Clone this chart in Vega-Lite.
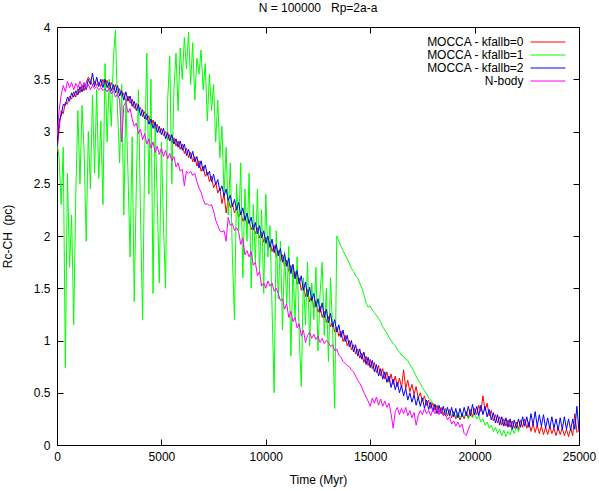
{
"$schema": "https://vega.github.io/schema/vega-lite/v6.json",
"width": 522,
"height": 418,
"autosize": {"type": "none"},
"padding": {"left": 57, "top": 27, "right": 20, "bottom": 46},
"background": "white",
"config": {
  "font": "Liberation Sans",
  "view": {"stroke": "black", "strokeWidth": 1},
  "axis": {"grid": false, "domain": false, "tickSize": -6, "tickColor": "black", "labelColor": "black", "labelFontSize": 12, "labelFont": "Liberation Sans", "titleFont": "Liberation Sans", "titleFontSize": 12, "titleFontWeight": "normal", "titleColor": "black", "labelFlush": false, "labelOverlap": false}
},
"title": {"text": "N = 100000\u00a0\u00a0 Rp=2a-a", "fontSize": 12, "fontWeight": "normal", "font": "Liberation Sans", "offset": 6, "anchor": "middle", "color": "black"},
"data": {"values": [
{"s":"k0","t":0,"v":2.80},{"s":"k0","t":100,"v":3.02},{"s":"k0","t":200,"v":3.20},{"s":"k0","t":300,"v":3.17},{"s":"k0","t":400,"v":3.28},{"s":"k0","t":500,"v":3.26},{"s":"k0","t":600,"v":3.34},{"s":"k0","t":700,"v":3.31},{"s":"k0","t":800,"v":3.38},{"s":"k0","t":900,"v":3.33},
{"s":"k0","t":1000,"v":3.41},{"s":"k0","t":1100,"v":3.37},{"s":"k0","t":1200,"v":3.44},{"s":"k0","t":1300,"v":3.39},{"s":"k0","t":1400,"v":3.47},{"s":"k0","t":1500,"v":3.52},{"s":"k0","t":1600,"v":3.49},{"s":"k0","t":1700,"v":3.44},{"s":"k0","t":1800,"v":3.48},{"s":"k0","t":1900,"v":3.44},
{"s":"k0","t":2000,"v":3.47},{"s":"k0","t":2100,"v":3.43},{"s":"k0","t":2200,"v":3.50},{"s":"k0","t":2300,"v":3.44},{"s":"k0","t":2400,"v":3.49},{"s":"k0","t":2500,"v":3.41},{"s":"k0","t":2600,"v":3.47},{"s":"k0","t":2700,"v":3.40},{"s":"k0","t":2800,"v":3.45},{"s":"k0","t":2900,"v":3.36},
{"s":"k0","t":3000,"v":3.41},{"s":"k0","t":3100,"v":3.33},{"s":"k0","t":3200,"v":3.37},{"s":"k0","t":3300,"v":3.28},{"s":"k0","t":3400,"v":3.34},{"s":"k0","t":3500,"v":3.27},{"s":"k0","t":3600,"v":3.31},{"s":"k0","t":3700,"v":3.22},{"s":"k0","t":3800,"v":3.27},{"s":"k0","t":3900,"v":3.19},
{"s":"k0","t":4000,"v":3.23},{"s":"k0","t":4100,"v":3.14},{"s":"k0","t":4200,"v":3.19},{"s":"k0","t":4300,"v":3.11},{"s":"k0","t":4400,"v":3.15},{"s":"k0","t":4500,"v":3.06},{"s":"k0","t":4600,"v":3.11},{"s":"k0","t":4700,"v":3.02},{"s":"k0","t":4800,"v":3.07},{"s":"k0","t":4900,"v":2.99},
{"s":"k0","t":5000,"v":3.03},{"s":"k0","t":5100,"v":2.96},{"s":"k0","t":5200,"v":3.00},{"s":"k0","t":5300,"v":2.92},{"s":"k0","t":5400,"v":2.97},{"s":"k0","t":5500,"v":2.89},{"s":"k0","t":5600,"v":2.94},{"s":"k0","t":5700,"v":2.86},{"s":"k0","t":5800,"v":2.91},{"s":"k0","t":5900,"v":2.83},
{"s":"k0","t":6000,"v":2.88},{"s":"k0","t":6100,"v":2.79},{"s":"k0","t":6200,"v":2.84},{"s":"k0","t":6300,"v":2.75},{"s":"k0","t":6400,"v":2.80},{"s":"k0","t":6500,"v":2.71},{"s":"k0","t":6600,"v":2.76},{"s":"k0","t":6700,"v":2.67},{"s":"k0","t":6800,"v":2.72},{"s":"k0","t":6900,"v":2.62},
{"s":"k0","t":7000,"v":2.67},{"s":"k0","t":7100,"v":2.57},{"s":"k0","t":7200,"v":2.61},{"s":"k0","t":7300,"v":2.52},{"s":"k0","t":7400,"v":2.57},{"s":"k0","t":7500,"v":2.46},{"s":"k0","t":7600,"v":2.51},{"s":"k0","t":7700,"v":2.41},{"s":"k0","t":7800,"v":2.46},{"s":"k0","t":7900,"v":2.31},
{"s":"k0","t":8000,"v":2.40},{"s":"k0","t":8100,"v":2.22},{"s":"k0","t":8200,"v":2.36},{"s":"k0","t":8300,"v":2.27},{"s":"k0","t":8400,"v":2.31},{"s":"k0","t":8500,"v":2.22},{"s":"k0","t":8600,"v":2.28},{"s":"k0","t":8700,"v":2.18},{"s":"k0","t":8800,"v":2.23},{"s":"k0","t":8900,"v":2.14},
{"s":"k0","t":9000,"v":2.19},{"s":"k0","t":9100,"v":2.10},{"s":"k0","t":9200,"v":2.15},{"s":"k0","t":9300,"v":2.06},{"s":"k0","t":9400,"v":2.11},{"s":"k0","t":9500,"v":2.02},{"s":"k0","t":9600,"v":2.08},{"s":"k0","t":9700,"v":1.98},{"s":"k0","t":9800,"v":2.04},{"s":"k0","t":9900,"v":1.94},
{"s":"k0","t":10000,"v":1.99},{"s":"k0","t":10100,"v":1.89},{"s":"k0","t":10200,"v":1.95},{"s":"k0","t":10300,"v":1.85},{"s":"k0","t":10400,"v":1.91},{"s":"k0","t":10500,"v":1.80},{"s":"k0","t":10600,"v":1.86},{"s":"k0","t":10700,"v":1.76},{"s":"k0","t":10800,"v":1.82},{"s":"k0","t":10900,"v":1.71},
{"s":"k0","t":11000,"v":1.77},{"s":"k0","t":11100,"v":1.66},{"s":"k0","t":11200,"v":1.72},{"s":"k0","t":11300,"v":1.60},{"s":"k0","t":11400,"v":1.66},{"s":"k0","t":11500,"v":1.54},{"s":"k0","t":11600,"v":1.60},{"s":"k0","t":11700,"v":1.48},{"s":"k0","t":11800,"v":1.54},{"s":"k0","t":11900,"v":1.42},
{"s":"k0","t":12000,"v":1.49},{"s":"k0","t":12100,"v":1.37},{"s":"k0","t":12200,"v":1.43},{"s":"k0","t":12300,"v":1.31},{"s":"k0","t":12400,"v":1.38},{"s":"k0","t":12500,"v":1.27},{"s":"k0","t":12600,"v":1.33},{"s":"k0","t":12700,"v":1.22},{"s":"k0","t":12800,"v":1.28},{"s":"k0","t":12900,"v":1.17},
{"s":"k0","t":13000,"v":1.23},{"s":"k0","t":13100,"v":1.13},{"s":"k0","t":13200,"v":1.18},{"s":"k0","t":13300,"v":1.08},{"s":"k0","t":13400,"v":1.13},{"s":"k0","t":13500,"v":1.04},{"s":"k0","t":13600,"v":1.09},{"s":"k0","t":13700,"v":0.99},{"s":"k0","t":13800,"v":1.05},{"s":"k0","t":13900,"v":0.95},
{"s":"k0","t":14000,"v":1.00},{"s":"k0","t":14100,"v":0.91},{"s":"k0","t":14200,"v":0.96},{"s":"k0","t":14300,"v":0.87},{"s":"k0","t":14400,"v":0.92},{"s":"k0","t":14500,"v":0.83},{"s":"k0","t":14600,"v":0.88},{"s":"k0","t":14700,"v":0.79},{"s":"k0","t":14800,"v":0.85},{"s":"k0","t":14900,"v":0.76},
{"s":"k0","t":15000,"v":0.82},{"s":"k0","t":15100,"v":0.73},{"s":"k0","t":15200,"v":0.79},{"s":"k0","t":15300,"v":0.69},{"s":"k0","t":15400,"v":0.76},{"s":"k0","t":15500,"v":0.66},{"s":"k0","t":15600,"v":0.73},{"s":"k0","t":15700,"v":0.63},{"s":"k0","t":15800,"v":0.70},{"s":"k0","t":15900,"v":0.60},
{"s":"k0","t":16000,"v":0.68},{"s":"k0","t":16100,"v":0.58},{"s":"k0","t":16200,"v":0.66},{"s":"k0","t":16300,"v":0.56},{"s":"k0","t":16400,"v":0.64},{"s":"k0","t":16500,"v":0.55},{"s":"k0","t":16600,"v":0.72},{"s":"k0","t":16700,"v":0.54},{"s":"k0","t":16800,"v":0.62},{"s":"k0","t":16900,"v":0.51},
{"s":"k0","t":17000,"v":0.58},{"s":"k0","t":17100,"v":0.48},{"s":"k0","t":17200,"v":0.56},{"s":"k0","t":17300,"v":0.45},{"s":"k0","t":17400,"v":0.50},{"s":"k0","t":17500,"v":0.42},{"s":"k0","t":17600,"v":0.47},{"s":"k0","t":17700,"v":0.38},{"s":"k0","t":17800,"v":0.43},{"s":"k0","t":17900,"v":0.35},
{"s":"k0","t":18000,"v":0.40},{"s":"k0","t":18100,"v":0.33},{"s":"k0","t":18200,"v":0.38},{"s":"k0","t":18300,"v":0.31},{"s":"k0","t":18400,"v":0.36},{"s":"k0","t":18500,"v":0.29},{"s":"k0","t":18600,"v":0.35},{"s":"k0","t":18700,"v":0.28},{"s":"k0","t":18800,"v":0.34},{"s":"k0","t":18900,"v":0.26},
{"s":"k0","t":19000,"v":0.32},{"s":"k0","t":19100,"v":0.25},{"s":"k0","t":19200,"v":0.31},{"s":"k0","t":19300,"v":0.24},{"s":"k0","t":19400,"v":0.30},{"s":"k0","t":19500,"v":0.25},{"s":"k0","t":19600,"v":0.32},{"s":"k0","t":19700,"v":0.26},{"s":"k0","t":19800,"v":0.34},{"s":"k0","t":19900,"v":0.27},
{"s":"k0","t":20000,"v":0.35},{"s":"k0","t":20100,"v":0.29},{"s":"k0","t":20200,"v":0.38},{"s":"k0","t":20300,"v":0.32},{"s":"k0","t":20400,"v":0.47},{"s":"k0","t":20500,"v":0.33},{"s":"k0","t":20600,"v":0.40},{"s":"k0","t":20700,"v":0.28},{"s":"k0","t":20800,"v":0.33},{"s":"k0","t":20900,"v":0.23},
{"s":"k0","t":21000,"v":0.29},{"s":"k0","t":21100,"v":0.21},{"s":"k0","t":21200,"v":0.27},{"s":"k0","t":21300,"v":0.19},{"s":"k0","t":21400,"v":0.25},{"s":"k0","t":21500,"v":0.18},{"s":"k0","t":21600,"v":0.24},{"s":"k0","t":21700,"v":0.17},{"s":"k0","t":21800,"v":0.23},{"s":"k0","t":21900,"v":0.16},
{"s":"k0","t":22000,"v":0.22},{"s":"k0","t":22100,"v":0.15},{"s":"k0","t":22200,"v":0.24},{"s":"k0","t":22300,"v":0.17},{"s":"k0","t":22400,"v":0.25},{"s":"k0","t":22500,"v":0.16},{"s":"k0","t":22600,"v":0.22},{"s":"k0","t":22700,"v":0.13},{"s":"k0","t":22800,"v":0.20},{"s":"k0","t":22900,"v":0.12},
{"s":"k0","t":23000,"v":0.19},{"s":"k0","t":23100,"v":0.11},{"s":"k0","t":23200,"v":0.18},{"s":"k0","t":23300,"v":0.10},{"s":"k0","t":23400,"v":0.17},{"s":"k0","t":23500,"v":0.10},{"s":"k0","t":23600,"v":0.18},{"s":"k0","t":23700,"v":0.11},{"s":"k0","t":23800,"v":0.16},{"s":"k0","t":23900,"v":0.09},
{"s":"k0","t":24000,"v":0.17},{"s":"k0","t":24100,"v":0.10},{"s":"k0","t":24200,"v":0.16},{"s":"k0","t":24300,"v":0.09},{"s":"k0","t":24400,"v":0.15},{"s":"k0","t":24500,"v":0.08},{"s":"k0","t":24600,"v":0.16},{"s":"k0","t":24700,"v":0.09},{"s":"k0","t":24800,"v":0.30},{"s":"k0","t":24900,"v":0.12},
{"s":"k0","t":25000,"v":0.14},
{"s":"k1","t":0,"v":2.90},{"s":"k1","t":100,"v":2.75},{"s":"k1","t":200,"v":2.30},{"s":"k1","t":300,"v":2.85},{"s":"k1","t":400,"v":0.74},{"s":"k1","t":500,"v":2.60},{"s":"k1","t":600,"v":1.70},{"s":"k1","t":700,"v":2.20},{"s":"k1","t":800,"v":1.15},{"s":"k1","t":900,"v":2.40},
{"s":"k1","t":1000,"v":3.20},{"s":"k1","t":1100,"v":2.50},{"s":"k1","t":1200,"v":3.25},{"s":"k1","t":1300,"v":2.80},{"s":"k1","t":1400,"v":1.95},{"s":"k1","t":1500,"v":3.00},{"s":"k1","t":1600,"v":2.45},{"s":"k1","t":1700,"v":3.35},{"s":"k1","t":1800,"v":2.60},{"s":"k1","t":1900,"v":3.40},
{"s":"k1","t":2000,"v":2.55},{"s":"k1","t":2100,"v":3.10},{"s":"k1","t":2200,"v":2.30},{"s":"k1","t":2300,"v":3.65},{"s":"k1","t":2400,"v":2.90},{"s":"k1","t":2500,"v":3.50},{"s":"k1","t":2600,"v":3.05},{"s":"k1","t":2700,"v":3.70},{"s":"k1","t":2800,"v":3.97},{"s":"k1","t":2900,"v":3.20},
{"s":"k1","t":3000,"v":2.70},{"s":"k1","t":3100,"v":3.45},{"s":"k1","t":3200,"v":2.20},{"s":"k1","t":3300,"v":3.30},{"s":"k1","t":3400,"v":2.60},{"s":"k1","t":3500,"v":1.80},{"s":"k1","t":3600,"v":2.95},{"s":"k1","t":3700,"v":1.37},{"s":"k1","t":3800,"v":2.50},{"s":"k1","t":3900,"v":3.40},
{"s":"k1","t":4000,"v":2.20},{"s":"k1","t":4100,"v":1.20},{"s":"k1","t":4200,"v":2.80},{"s":"k1","t":4300,"v":3.75},{"s":"k1","t":4400,"v":2.40},{"s":"k1","t":4500,"v":3.50},{"s":"k1","t":4600,"v":1.45},{"s":"k1","t":4700,"v":3.10},{"s":"k1","t":4800,"v":2.35},{"s":"k1","t":4900,"v":1.55},
{"s":"k1","t":5000,"v":2.90},{"s":"k1","t":5100,"v":2.10},{"s":"k1","t":5200,"v":1.50},{"s":"k1","t":5300,"v":3.30},{"s":"k1","t":5400,"v":3.72},{"s":"k1","t":5500,"v":2.50},{"s":"k1","t":5600,"v":3.40},{"s":"k1","t":5700,"v":3.75},{"s":"k1","t":5800,"v":3.20},{"s":"k1","t":5900,"v":3.80},
{"s":"k1","t":6000,"v":3.50},{"s":"k1","t":6100,"v":3.90},{"s":"k1","t":6200,"v":3.60},{"s":"k1","t":6300,"v":3.95},{"s":"k1","t":6400,"v":3.45},{"s":"k1","t":6500,"v":3.85},{"s":"k1","t":6600,"v":3.30},{"s":"k1","t":6700,"v":3.70},{"s":"k1","t":6800,"v":3.55},{"s":"k1","t":6900,"v":3.78},
{"s":"k1","t":7000,"v":3.40},{"s":"k1","t":7100,"v":3.65},{"s":"k1","t":7200,"v":3.10},{"s":"k1","t":7300,"v":3.55},{"s":"k1","t":7400,"v":3.20},{"s":"k1","t":7500,"v":3.45},{"s":"k1","t":7600,"v":2.90},{"s":"k1","t":7700,"v":3.30},{"s":"k1","t":7800,"v":2.75},{"s":"k1","t":7900,"v":3.05},
{"s":"k1","t":8000,"v":2.40},{"s":"k1","t":8100,"v":2.85},{"s":"k1","t":8200,"v":2.20},{"s":"k1","t":8300,"v":2.70},{"s":"k1","t":8400,"v":1.80},{"s":"k1","t":8500,"v":1.20},{"s":"k1","t":8600,"v":2.50},{"s":"k1","t":8700,"v":2.05},{"s":"k1","t":8800,"v":2.70},{"s":"k1","t":8900,"v":1.60},
{"s":"k1","t":9000,"v":2.45},{"s":"k1","t":9100,"v":1.95},{"s":"k1","t":9200,"v":2.60},{"s":"k1","t":9300,"v":1.50},{"s":"k1","t":9400,"v":2.30},{"s":"k1","t":9500,"v":1.75},{"s":"k1","t":9600,"v":2.45},{"s":"k1","t":9700,"v":1.65},{"s":"k1","t":9800,"v":2.25},{"s":"k1","t":9900,"v":1.45},
{"s":"k1","t":10000,"v":2.40},{"s":"k1","t":10100,"v":1.80},{"s":"k1","t":10200,"v":2.10},{"s":"k1","t":10300,"v":1.30},{"s":"k1","t":10400,"v":0.50},{"s":"k1","t":10500,"v":2.05},{"s":"k1","t":10600,"v":1.40},{"s":"k1","t":10700,"v":1.95},{"s":"k1","t":10800,"v":1.10},{"s":"k1","t":10900,"v":1.85},
{"s":"k1","t":11000,"v":1.35},{"s":"k1","t":11100,"v":1.90},{"s":"k1","t":11200,"v":0.85},{"s":"k1","t":11300,"v":1.70},{"s":"k1","t":11400,"v":1.20},{"s":"k1","t":11500,"v":1.80},{"s":"k1","t":11600,"v":1.05},{"s":"k1","t":11700,"v":0.56},{"s":"k1","t":11800,"v":1.60},{"s":"k1","t":11900,"v":1.15},
{"s":"k1","t":12000,"v":1.75},{"s":"k1","t":12100,"v":0.95},{"s":"k1","t":12200,"v":1.55},{"s":"k1","t":12300,"v":1.20},{"s":"k1","t":12400,"v":1.70},{"s":"k1","t":12500,"v":0.90},{"s":"k1","t":12600,"v":1.45},{"s":"k1","t":12700,"v":1.75},{"s":"k1","t":12800,"v":1.05},{"s":"k1","t":12900,"v":1.50},
{"s":"k1","t":13000,"v":0.80},{"s":"k1","t":13100,"v":1.60},{"s":"k1","t":13200,"v":1.10},{"s":"k1","t":13300,"v":0.35},{"s":"k1","t":13400,"v":2.00},{"s":"k1","t":13500,"v":1.95},{"s":"k1","t":13600,"v":1.90},{"s":"k1","t":13700,"v":1.86},{"s":"k1","t":13800,"v":1.82},{"s":"k1","t":13900,"v":1.78},
{"s":"k1","t":14000,"v":1.74},{"s":"k1","t":14100,"v":1.69},{"s":"k1","t":14200,"v":1.66},{"s":"k1","t":14300,"v":1.62},{"s":"k1","t":14400,"v":1.60},{"s":"k1","t":14500,"v":1.55},{"s":"k1","t":14600,"v":1.50},{"s":"k1","t":14700,"v":1.44},{"s":"k1","t":14800,"v":1.36},{"s":"k1","t":14900,"v":1.32},
{"s":"k1","t":15000,"v":1.33},{"s":"k1","t":15100,"v":1.29},{"s":"k1","t":15200,"v":1.27},{"s":"k1","t":15300,"v":1.24},{"s":"k1","t":15400,"v":1.21},{"s":"k1","t":15500,"v":1.18},{"s":"k1","t":15600,"v":1.13},{"s":"k1","t":15700,"v":1.10},{"s":"k1","t":15800,"v":1.07},{"s":"k1","t":15900,"v":1.03},
{"s":"k1","t":16000,"v":1.00},{"s":"k1","t":16100,"v":0.97},{"s":"k1","t":16200,"v":0.95},{"s":"k1","t":16300,"v":0.91},{"s":"k1","t":16400,"v":0.89},{"s":"k1","t":16500,"v":0.86},{"s":"k1","t":16600,"v":0.85},{"s":"k1","t":16700,"v":0.82},{"s":"k1","t":16800,"v":0.81},{"s":"k1","t":16900,"v":0.77},
{"s":"k1","t":17000,"v":0.74},{"s":"k1","t":17100,"v":0.70},{"s":"k1","t":17200,"v":0.66},{"s":"k1","t":17300,"v":0.62},{"s":"k1","t":17400,"v":0.59},{"s":"k1","t":17500,"v":0.55},{"s":"k1","t":17600,"v":0.52},{"s":"k1","t":17700,"v":0.49},{"s":"k1","t":17800,"v":0.45},{"s":"k1","t":17900,"v":0.43},
{"s":"k1","t":18000,"v":0.40},{"s":"k1","t":18100,"v":0.38},{"s":"k1","t":18200,"v":0.35},{"s":"k1","t":18300,"v":0.34},{"s":"k1","t":18400,"v":0.32},{"s":"k1","t":18500,"v":0.31},{"s":"k1","t":18600,"v":0.33},{"s":"k1","t":18700,"v":0.29},{"s":"k1","t":18800,"v":0.31},{"s":"k1","t":18900,"v":0.28},
{"s":"k1","t":19000,"v":0.30},{"s":"k1","t":19100,"v":0.27},{"s":"k1","t":19200,"v":0.31},{"s":"k1","t":19300,"v":0.26},{"s":"k1","t":19400,"v":0.29},{"s":"k1","t":19500,"v":0.27},{"s":"k1","t":19600,"v":0.30},{"s":"k1","t":19700,"v":0.25},{"s":"k1","t":19800,"v":0.29},{"s":"k1","t":19900,"v":0.26},
{"s":"k1","t":20000,"v":0.30},{"s":"k1","t":20100,"v":0.25},{"s":"k1","t":20200,"v":0.28},{"s":"k1","t":20300,"v":0.22},{"s":"k1","t":20400,"v":0.25},{"s":"k1","t":20500,"v":0.19},{"s":"k1","t":20600,"v":0.22},{"s":"k1","t":20700,"v":0.16},{"s":"k1","t":20800,"v":0.19},{"s":"k1","t":20900,"v":0.13},
{"s":"k1","t":21000,"v":0.17},{"s":"k1","t":21100,"v":0.11},{"s":"k1","t":21200,"v":0.15},{"s":"k1","t":21300,"v":0.09},{"s":"k1","t":21400,"v":0.14},{"s":"k1","t":21500,"v":0.08},{"s":"k1","t":21600,"v":0.13},{"s":"k1","t":21700,"v":0.10},{"s":"k1","t":21800,"v":0.16},{"s":"k1","t":21900,"v":0.11},
{"s":"k1","t":22000,"v":0.18},{"s":"k1","t":22100,"v":0.13},{"s":"k1","t":22200,"v":0.19},
{"s":"k2","t":0,"v":2.85},{"s":"k2","t":100,"v":3.10},{"s":"k2","t":200,"v":3.15},{"s":"k2","t":300,"v":3.26},{"s":"k2","t":400,"v":3.25},{"s":"k2","t":500,"v":3.33},{"s":"k2","t":600,"v":3.29},{"s":"k2","t":700,"v":3.37},{"s":"k2","t":800,"v":3.33},{"s":"k2","t":900,"v":3.39},
{"s":"k2","t":1000,"v":3.35},{"s":"k2","t":1100,"v":3.43},{"s":"k2","t":1200,"v":3.38},{"s":"k2","t":1300,"v":3.45},{"s":"k2","t":1400,"v":3.40},{"s":"k2","t":1500,"v":3.50},{"s":"k2","t":1600,"v":3.45},{"s":"k2","t":1700,"v":3.56},{"s":"k2","t":1800,"v":3.43},{"s":"k2","t":1900,"v":3.52},
{"s":"k2","t":2000,"v":3.43},{"s":"k2","t":2100,"v":3.50},{"s":"k2","t":2200,"v":3.42},{"s":"k2","t":2300,"v":3.50},{"s":"k2","t":2400,"v":3.42},{"s":"k2","t":2500,"v":3.47},{"s":"k2","t":2600,"v":3.39},{"s":"k2","t":2700,"v":3.45},{"s":"k2","t":2800,"v":3.37},{"s":"k2","t":2900,"v":3.44},
{"s":"k2","t":3000,"v":3.34},{"s":"k2","t":3100,"v":3.39},{"s":"k2","t":3200,"v":3.30},{"s":"k2","t":3300,"v":3.38},{"s":"k2","t":3400,"v":3.29},{"s":"k2","t":3500,"v":3.34},{"s":"k2","t":3600,"v":3.24},{"s":"k2","t":3700,"v":3.29},{"s":"k2","t":3800,"v":3.20},{"s":"k2","t":3900,"v":3.26},
{"s":"k2","t":4000,"v":3.15},{"s":"k2","t":4100,"v":3.21},{"s":"k2","t":4200,"v":3.12},{"s":"k2","t":4300,"v":3.17},{"s":"k2","t":4400,"v":3.07},{"s":"k2","t":4500,"v":3.12},{"s":"k2","t":4600,"v":3.03},{"s":"k2","t":4700,"v":3.09},{"s":"k2","t":4800,"v":2.99},{"s":"k2","t":4900,"v":3.05},
{"s":"k2","t":5000,"v":2.97},{"s":"k2","t":5100,"v":3.03},{"s":"k2","t":5200,"v":2.93},{"s":"k2","t":5300,"v":2.99},{"s":"k2","t":5400,"v":2.91},{"s":"k2","t":5500,"v":2.97},{"s":"k2","t":5600,"v":2.88},{"s":"k2","t":5700,"v":2.93},{"s":"k2","t":5800,"v":2.85},{"s":"k2","t":5900,"v":2.91},
{"s":"k2","t":6000,"v":2.82},{"s":"k2","t":6100,"v":2.88},{"s":"k2","t":6200,"v":2.77},{"s":"k2","t":6300,"v":2.83},{"s":"k2","t":6400,"v":2.74},{"s":"k2","t":6500,"v":2.81},{"s":"k2","t":6600,"v":2.71},{"s":"k2","t":6700,"v":2.76},{"s":"k2","t":6800,"v":2.65},{"s":"k2","t":6900,"v":2.72},
{"s":"k2","t":7000,"v":2.62},{"s":"k2","t":7100,"v":2.68},{"s":"k2","t":7200,"v":2.58},{"s":"k2","t":7300,"v":2.62},{"s":"k2","t":7400,"v":2.52},{"s":"k2","t":7500,"v":2.59},{"s":"k2","t":7600,"v":2.49},{"s":"k2","t":7700,"v":2.54},{"s":"k2","t":7800,"v":2.43},{"s":"k2","t":7900,"v":2.48},
{"s":"k2","t":8000,"v":2.38},{"s":"k2","t":8100,"v":2.45},{"s":"k2","t":8200,"v":2.34},{"s":"k2","t":8300,"v":2.39},{"s":"k2","t":8400,"v":2.28},{"s":"k2","t":8500,"v":2.35},{"s":"k2","t":8600,"v":2.25},{"s":"k2","t":8700,"v":2.32},{"s":"k2","t":8800,"v":2.20},{"s":"k2","t":8900,"v":2.27},
{"s":"k2","t":9000,"v":2.15},{"s":"k2","t":9100,"v":2.22},{"s":"k2","t":9200,"v":2.12},{"s":"k2","t":9300,"v":2.18},{"s":"k2","t":9400,"v":2.06},{"s":"k2","t":9500,"v":2.13},{"s":"k2","t":9600,"v":2.02},{"s":"k2","t":9700,"v":2.10},{"s":"k2","t":9800,"v":1.98},{"s":"k2","t":9900,"v":2.05},
{"s":"k2","t":10000,"v":1.93},{"s":"k2","t":10100,"v":2.00},{"s":"k2","t":10200,"v":1.89},{"s":"k2","t":10300,"v":1.97},{"s":"k2","t":10400,"v":1.84},{"s":"k2","t":10500,"v":1.92},{"s":"k2","t":10600,"v":1.81},{"s":"k2","t":10700,"v":1.88},{"s":"k2","t":10800,"v":1.75},{"s":"k2","t":10900,"v":1.83},
{"s":"k2","t":11000,"v":1.71},{"s":"k2","t":11100,"v":1.79},{"s":"k2","t":11200,"v":1.64},{"s":"k2","t":11300,"v":1.73},{"s":"k2","t":11400,"v":1.59},{"s":"k2","t":11500,"v":1.67},{"s":"k2","t":11600,"v":1.54},{"s":"k2","t":11700,"v":1.62},{"s":"k2","t":11800,"v":1.48},{"s":"k2","t":11900,"v":1.56},
{"s":"k2","t":12000,"v":1.42},{"s":"k2","t":12100,"v":1.51},{"s":"k2","t":12200,"v":1.38},{"s":"k2","t":12300,"v":1.45},{"s":"k2","t":12400,"v":1.32},{"s":"k2","t":12500,"v":1.40},{"s":"k2","t":12600,"v":1.27},{"s":"k2","t":12700,"v":1.36},{"s":"k2","t":12800,"v":1.22},{"s":"k2","t":12900,"v":1.30},
{"s":"k2","t":13000,"v":1.17},{"s":"k2","t":13100,"v":1.26},{"s":"k2","t":13200,"v":1.13},{"s":"k2","t":13300,"v":1.20},{"s":"k2","t":13400,"v":1.08},{"s":"k2","t":13500,"v":1.15},{"s":"k2","t":13600,"v":1.03},{"s":"k2","t":13700,"v":1.10},{"s":"k2","t":13800,"v":0.99},{"s":"k2","t":13900,"v":1.05},
{"s":"k2","t":14000,"v":0.94},{"s":"k2","t":14100,"v":1.00},{"s":"k2","t":14200,"v":0.89},{"s":"k2","t":14300,"v":0.96},{"s":"k2","t":14400,"v":0.85},{"s":"k2","t":14500,"v":0.92},{"s":"k2","t":14600,"v":0.82},{"s":"k2","t":14700,"v":0.89},{"s":"k2","t":14800,"v":0.77},{"s":"k2","t":14900,"v":0.84},
{"s":"k2","t":15000,"v":0.74},{"s":"k2","t":15100,"v":0.81},{"s":"k2","t":15200,"v":0.70},{"s":"k2","t":15300,"v":0.77},{"s":"k2","t":15400,"v":0.66},{"s":"k2","t":15500,"v":0.73},{"s":"k2","t":15600,"v":0.63},{"s":"k2","t":15700,"v":0.70},{"s":"k2","t":15800,"v":0.60},{"s":"k2","t":15900,"v":0.66},
{"s":"k2","t":16000,"v":0.55},{"s":"k2","t":16100,"v":0.63},{"s":"k2","t":16200,"v":0.53},{"s":"k2","t":16300,"v":0.60},{"s":"k2","t":16400,"v":0.50},{"s":"k2","t":16500,"v":0.57},{"s":"k2","t":16600,"v":0.47},{"s":"k2","t":16700,"v":0.54},{"s":"k2","t":16800,"v":0.43},{"s":"k2","t":16900,"v":0.50},
{"s":"k2","t":17000,"v":0.41},{"s":"k2","t":17100,"v":0.48},{"s":"k2","t":17200,"v":0.38},{"s":"k2","t":17300,"v":0.46},{"s":"k2","t":17400,"v":0.37},{"s":"k2","t":17500,"v":0.45},{"s":"k2","t":17600,"v":0.35},{"s":"k2","t":17700,"v":0.43},{"s":"k2","t":17800,"v":0.34},{"s":"k2","t":17900,"v":0.41},
{"s":"k2","t":18000,"v":0.32},{"s":"k2","t":18100,"v":0.39},{"s":"k2","t":18200,"v":0.30},{"s":"k2","t":18300,"v":0.38},{"s":"k2","t":18400,"v":0.30},{"s":"k2","t":18500,"v":0.37},{"s":"k2","t":18600,"v":0.28},{"s":"k2","t":18700,"v":0.36},{"s":"k2","t":18800,"v":0.28},{"s":"k2","t":18900,"v":0.36},
{"s":"k2","t":19000,"v":0.27},{"s":"k2","t":19100,"v":0.35},{"s":"k2","t":19200,"v":0.26},{"s":"k2","t":19300,"v":0.35},{"s":"k2","t":19400,"v":0.27},{"s":"k2","t":19500,"v":0.36},{"s":"k2","t":19600,"v":0.28},{"s":"k2","t":19700,"v":0.37},{"s":"k2","t":19800,"v":0.28},{"s":"k2","t":19900,"v":0.39},
{"s":"k2","t":20000,"v":0.29},{"s":"k2","t":20100,"v":0.37},{"s":"k2","t":20200,"v":0.28},{"s":"k2","t":20300,"v":0.38},{"s":"k2","t":20400,"v":0.29},{"s":"k2","t":20500,"v":0.37},{"s":"k2","t":20600,"v":0.27},{"s":"k2","t":20700,"v":0.34},{"s":"k2","t":20800,"v":0.24},{"s":"k2","t":20900,"v":0.31},
{"s":"k2","t":21000,"v":0.21},{"s":"k2","t":21100,"v":0.29},{"s":"k2","t":21200,"v":0.19},{"s":"k2","t":21300,"v":0.27},{"s":"k2","t":21400,"v":0.18},{"s":"k2","t":21500,"v":0.26},{"s":"k2","t":21600,"v":0.17},{"s":"k2","t":21700,"v":0.25},{"s":"k2","t":21800,"v":0.15},{"s":"k2","t":21900,"v":0.24},
{"s":"k2","t":22000,"v":0.16},{"s":"k2","t":22100,"v":0.25},{"s":"k2","t":22200,"v":0.17},{"s":"k2","t":22300,"v":0.27},{"s":"k2","t":22400,"v":0.18},{"s":"k2","t":22500,"v":0.27},{"s":"k2","t":22600,"v":0.17},{"s":"k2","t":22700,"v":0.30},{"s":"k2","t":22800,"v":0.19},{"s":"k2","t":22900,"v":0.32},
{"s":"k2","t":23000,"v":0.18},{"s":"k2","t":23100,"v":0.29},{"s":"k2","t":23200,"v":0.18},{"s":"k2","t":23300,"v":0.29},{"s":"k2","t":23400,"v":0.16},{"s":"k2","t":23500,"v":0.26},{"s":"k2","t":23600,"v":0.16},{"s":"k2","t":23700,"v":0.27},{"s":"k2","t":23800,"v":0.16},{"s":"k2","t":23900,"v":0.25},
{"s":"k2","t":24000,"v":0.14},{"s":"k2","t":24100,"v":0.26},{"s":"k2","t":24200,"v":0.15},{"s":"k2","t":24300,"v":0.27},{"s":"k2","t":24400,"v":0.15},{"s":"k2","t":24500,"v":0.25},{"s":"k2","t":24600,"v":0.14},{"s":"k2","t":24700,"v":0.25},{"s":"k2","t":24800,"v":0.15},{"s":"k2","t":24900,"v":0.37},
{"s":"k2","t":25000,"v":0.13},
{"s":"nb","t":0,"v":2.95},{"s":"nb","t":100,"v":3.20},{"s":"nb","t":200,"v":3.35},{"s":"nb","t":300,"v":3.44},{"s":"nb","t":400,"v":3.38},{"s":"nb","t":500,"v":3.48},{"s":"nb","t":600,"v":3.42},{"s":"nb","t":700,"v":3.47},{"s":"nb","t":800,"v":3.40},{"s":"nb","t":900,"v":3.46},
{"s":"nb","t":1000,"v":3.42},{"s":"nb","t":1100,"v":3.48},{"s":"nb","t":1200,"v":3.43},{"s":"nb","t":1300,"v":3.47},{"s":"nb","t":1400,"v":3.41},{"s":"nb","t":1500,"v":3.45},{"s":"nb","t":1600,"v":3.40},{"s":"nb","t":1700,"v":3.44},{"s":"nb","t":1800,"v":3.41},{"s":"nb","t":1900,"v":3.43},
{"s":"nb","t":2000,"v":3.40},{"s":"nb","t":2100,"v":3.42},{"s":"nb","t":2200,"v":3.39},{"s":"nb","t":2300,"v":3.41},{"s":"nb","t":2400,"v":3.38},{"s":"nb","t":2500,"v":3.42},{"s":"nb","t":2600,"v":3.36},{"s":"nb","t":2700,"v":3.39},{"s":"nb","t":2800,"v":3.33},{"s":"nb","t":2900,"v":3.36},
{"s":"nb","t":3000,"v":3.30},{"s":"nb","t":3100,"v":2.90},{"s":"nb","t":3200,"v":3.25},{"s":"nb","t":3300,"v":3.28},{"s":"nb","t":3400,"v":3.18},{"s":"nb","t":3500,"v":3.22},{"s":"nb","t":3600,"v":3.12},{"s":"nb","t":3700,"v":3.05},{"s":"nb","t":3800,"v":3.08},{"s":"nb","t":3900,"v":2.98},
{"s":"nb","t":4000,"v":3.02},{"s":"nb","t":4100,"v":2.92},{"s":"nb","t":4200,"v":2.98},{"s":"nb","t":4300,"v":2.88},{"s":"nb","t":4400,"v":2.93},{"s":"nb","t":4500,"v":2.84},{"s":"nb","t":4600,"v":2.90},{"s":"nb","t":4700,"v":2.80},{"s":"nb","t":4800,"v":2.86},{"s":"nb","t":4900,"v":2.78},
{"s":"nb","t":5000,"v":2.84},{"s":"nb","t":5100,"v":2.76},{"s":"nb","t":5200,"v":2.82},{"s":"nb","t":5300,"v":2.74},{"s":"nb","t":5400,"v":2.79},{"s":"nb","t":5500,"v":2.72},{"s":"nb","t":5600,"v":2.76},{"s":"nb","t":5700,"v":2.66},{"s":"nb","t":5800,"v":2.70},{"s":"nb","t":5900,"v":2.62},
{"s":"nb","t":6000,"v":2.64},{"s":"nb","t":6100,"v":2.48},{"s":"nb","t":6200,"v":2.62},{"s":"nb","t":6300,"v":2.60},{"s":"nb","t":6400,"v":2.62},{"s":"nb","t":6500,"v":2.58},{"s":"nb","t":6600,"v":2.60},{"s":"nb","t":6700,"v":2.52},{"s":"nb","t":6800,"v":2.46},{"s":"nb","t":6900,"v":2.42},
{"s":"nb","t":7000,"v":2.35},{"s":"nb","t":7100,"v":2.30},{"s":"nb","t":7200,"v":2.31},{"s":"nb","t":7300,"v":2.29},{"s":"nb","t":7400,"v":2.30},{"s":"nb","t":7500,"v":2.24},{"s":"nb","t":7600,"v":2.15},{"s":"nb","t":7700,"v":2.10},{"s":"nb","t":7800,"v":2.05},{"s":"nb","t":7900,"v":2.04},
{"s":"nb","t":8000,"v":2.05},{"s":"nb","t":8100,"v":1.95},{"s":"nb","t":8200,"v":2.18},{"s":"nb","t":8300,"v":2.10},{"s":"nb","t":8400,"v":2.12},{"s":"nb","t":8500,"v":2.05},{"s":"nb","t":8600,"v":2.08},{"s":"nb","t":8700,"v":2.04},{"s":"nb","t":8800,"v":1.92},{"s":"nb","t":8900,"v":1.98},
{"s":"nb","t":9000,"v":1.82},{"s":"nb","t":9100,"v":1.86},{"s":"nb","t":9200,"v":1.80},{"s":"nb","t":9300,"v":1.85},{"s":"nb","t":9400,"v":1.72},{"s":"nb","t":9500,"v":1.75},{"s":"nb","t":9600,"v":1.62},{"s":"nb","t":9700,"v":1.66},{"s":"nb","t":9800,"v":1.52},{"s":"nb","t":9900,"v":1.55},
{"s":"nb","t":10000,"v":1.50},{"s":"nb","t":10100,"v":1.57},{"s":"nb","t":10200,"v":1.52},{"s":"nb","t":10300,"v":1.55},{"s":"nb","t":10400,"v":1.47},{"s":"nb","t":10500,"v":1.50},{"s":"nb","t":10600,"v":1.45},{"s":"nb","t":10700,"v":1.38},{"s":"nb","t":10800,"v":1.40},{"s":"nb","t":10900,"v":1.30},
{"s":"nb","t":11000,"v":1.35},{"s":"nb","t":11100,"v":1.22},{"s":"nb","t":11200,"v":1.28},{"s":"nb","t":11300,"v":1.18},{"s":"nb","t":11400,"v":1.22},{"s":"nb","t":11500,"v":1.12},{"s":"nb","t":11600,"v":1.16},{"s":"nb","t":11700,"v":1.04},{"s":"nb","t":11800,"v":1.10},{"s":"nb","t":11900,"v":0.98},
{"s":"nb","t":12000,"v":1.05},{"s":"nb","t":12100,"v":1.08},{"s":"nb","t":12200,"v":1.02},{"s":"nb","t":12300,"v":1.06},{"s":"nb","t":12400,"v":1.01},{"s":"nb","t":12500,"v":1.04},{"s":"nb","t":12600,"v":0.98},{"s":"nb","t":12700,"v":1.02},{"s":"nb","t":12800,"v":0.97},{"s":"nb","t":12900,"v":1.00},
{"s":"nb","t":13000,"v":0.98},{"s":"nb","t":13100,"v":0.94},{"s":"nb","t":13200,"v":0.96},{"s":"nb","t":13300,"v":0.90},{"s":"nb","t":13400,"v":0.92},{"s":"nb","t":13500,"v":0.86},{"s":"nb","t":13600,"v":0.84},{"s":"nb","t":13700,"v":0.80},{"s":"nb","t":13800,"v":0.78},{"s":"nb","t":13900,"v":0.76},
{"s":"nb","t":14000,"v":0.75},{"s":"nb","t":14100,"v":0.72},{"s":"nb","t":14200,"v":0.70},{"s":"nb","t":14300,"v":0.66},{"s":"nb","t":14400,"v":0.62},{"s":"nb","t":14500,"v":0.59},{"s":"nb","t":14600,"v":0.55},{"s":"nb","t":14700,"v":0.50},{"s":"nb","t":14800,"v":0.46},{"s":"nb","t":14900,"v":0.42},
{"s":"nb","t":15000,"v":0.37},{"s":"nb","t":15100,"v":0.45},{"s":"nb","t":15200,"v":0.40},{"s":"nb","t":15300,"v":0.46},{"s":"nb","t":15400,"v":0.38},{"s":"nb","t":15500,"v":0.44},{"s":"nb","t":15600,"v":0.37},{"s":"nb","t":15700,"v":0.42},{"s":"nb","t":15800,"v":0.36},{"s":"nb","t":15900,"v":0.40},
{"s":"nb","t":16000,"v":0.30},{"s":"nb","t":16100,"v":0.16},{"s":"nb","t":16200,"v":0.32},{"s":"nb","t":16300,"v":0.36},{"s":"nb","t":16400,"v":0.29},{"s":"nb","t":16500,"v":0.35},{"s":"nb","t":16600,"v":0.30},{"s":"nb","t":16700,"v":0.36},{"s":"nb","t":16800,"v":0.28},{"s":"nb","t":16900,"v":0.33},
{"s":"nb","t":17000,"v":0.26},{"s":"nb","t":17100,"v":0.31},{"s":"nb","t":17200,"v":0.19},{"s":"nb","t":17300,"v":0.28},{"s":"nb","t":17400,"v":0.33},{"s":"nb","t":17500,"v":0.29},{"s":"nb","t":17600,"v":0.35},{"s":"nb","t":17700,"v":0.30},{"s":"nb","t":17800,"v":0.33},{"s":"nb","t":17900,"v":0.28},
{"s":"nb","t":18000,"v":0.34},{"s":"nb","t":18100,"v":0.30},{"s":"nb","t":18200,"v":0.35},{"s":"nb","t":18300,"v":0.29},{"s":"nb","t":18400,"v":0.33},{"s":"nb","t":18500,"v":0.28},{"s":"nb","t":18600,"v":0.30},{"s":"nb","t":18700,"v":0.24},{"s":"nb","t":18800,"v":0.27},{"s":"nb","t":18900,"v":0.20},
{"s":"nb","t":19000,"v":0.23},{"s":"nb","t":19100,"v":0.18},{"s":"nb","t":19200,"v":0.22},{"s":"nb","t":19300,"v":0.17},{"s":"nb","t":19400,"v":0.20},{"s":"nb","t":19500,"v":0.11},{"s":"nb","t":19600,"v":0.09},{"s":"nb","t":19700,"v":0.15},{"s":"nb","t":19800,"v":0.20}
]},
"layer": [
  {
    "mark": {"type": "line", "strokeWidth": 1, "clip": true},
    "encoding": {
      "x": {"field": "t", "type": "quantitative", "scale": {"domain": [0, 25000], "nice": false},
            "axis": {"orient": "bottom", "values": [0, 5000, 10000, 15000, 20000, 25000], "format": "d", "title": "Time (Myr)", "labelPadding": 12, "titlePadding": 12}},
      "y": {"field": "v", "type": "quantitative", "scale": {"domain": [0, 4], "nice": false},
            "axis": {"orient": "left", "values": [0, 0.5, 1, 1.5, 2, 2.5, 3, 3.5, 4], "format": "~g", "title": "Rc-CH\u00a0\u00a0(pc)", "labelPadding": 13, "titlePadding": 19}},
      "color": {"field": "s", "type": "nominal",
                "scale": {"domain": ["k0", "k1", "k2", "nb"], "range": ["#ff0000", "#00ff00", "#0000ff", "#ff00ff"]},
                "legend": {"orient": "none", "legendX": 485, "legendY": 9, "title": null, "symbolType": "M-3.5,0H3.5", "symbolSize": 100, "symbolStrokeWidth": 1, "symbolOpacity": 1, "labelFontSize": 12, "labelFont": "Liberation Sans", "labelColor": "black", "labelAlign": "right", "labelOffset": -30.5, "rowPadding": 1,
                           "labelExpr": "datum.label == 'k0' ? 'MOCCA - kfallb=0' : datum.label == 'k1' ? 'MOCCA - kfallb=1' : datum.label == 'k2' ? 'MOCCA - kfallb=2' : 'N-body'"}}
    }
  },
  {
    "transform": [{"filter": "datum.t == 0"}],
    "mark": {"type": "point", "opacity": 0},
    "encoding": {
      "x": {"field": "t", "type": "quantitative", "scale": {"domain": [0, 25000], "nice": false},
            "axis": {"orient": "top", "values": [0, 5000, 10000, 15000, 20000, 25000], "labels": false, "title": null}},
      "y": {"field": "v", "type": "quantitative", "scale": {"domain": [0, 4], "nice": false},
            "axis": {"orient": "right", "values": [0, 0.5, 1, 1.5, 2, 2.5, 3, 3.5, 4], "labels": false, "title": null}}
    }
  }
],
"resolve": {"axis": {"x": "independent", "y": "independent"}}
}
